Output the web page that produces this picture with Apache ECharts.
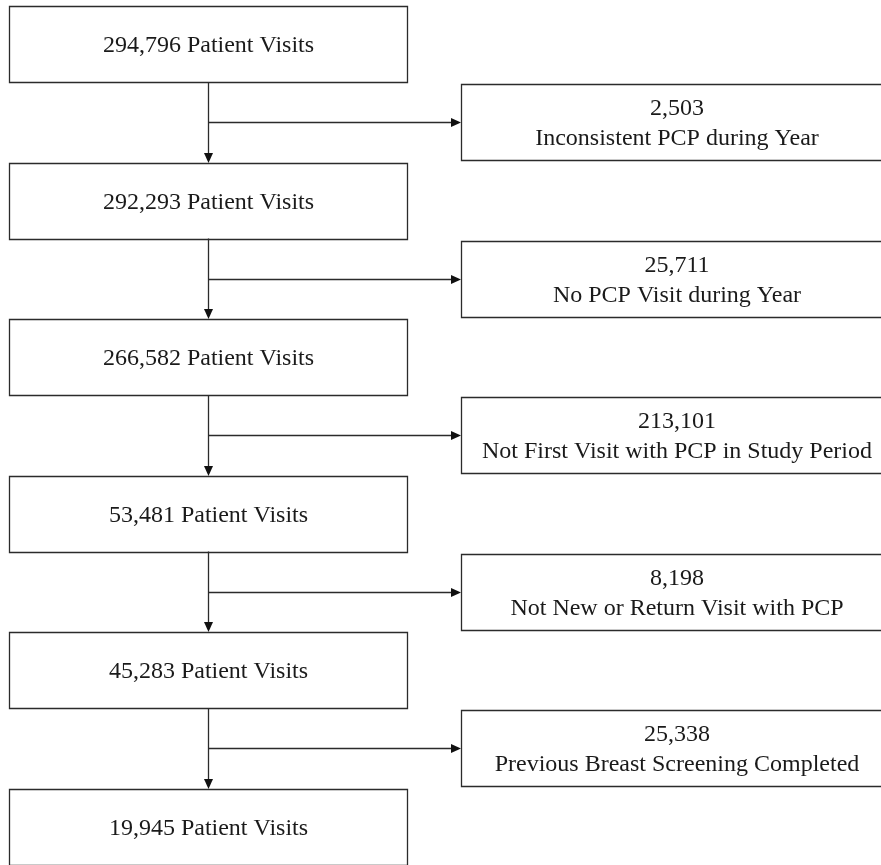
<!DOCTYPE html>
<html>
<head>
<meta charset="utf-8">
<script src="https://cdn.jsdelivr.net/npm/echarts@6/dist/echarts.min.js"></script>
<style>
html,body{margin:0;padding:0;background:#fff;overflow:hidden;}
#chart{width:881px;height:865px;}
</style>
</head>
<body>
<div id="chart"></div>
<script>
// ---- data ----
const mainCounts = [294796, 292293, 266582, 53481, 45283, 19945];
const mainLabel = 'Patient Visits';
const excludedCounts = [2503, 25711, 213101, 8198, 25338];
const excludedReasons = [
  'Inconsistent PCP during Year',
  'No PCP Visit during Year',
  'Not First Visit with PCP in Study Period',
  'Not New or Return Visit with PCP',
  'Previous Breast Screening Completed'
];

// ---- layout (axis units) ----
const STEP = 156.5;
const MAIN = { x0: 9, x1: 407, top: 6, h: 76 };
const EXCL = { x0: 461, x1: 892, top: 84, h: 76 };
const STEM_X = 208;
const FONT = '24px "Liberation Serif", "Times New Roman", serif';
const LINE = '#2b2b2b';
const TEXT = '#1a1a1a';

const fmt = v => v.toLocaleString('en-US');

function boxRect(api, b, i) {
  const top = b.top + i * STEP;
  const p0 = api.coord([b.x0, top]);
  const p1 = api.coord([b.x1, top + b.h]);
  return { x: Math.round(p0[0]) + 0.5, y: Math.round(p0[1]) + 0.5,
           width: Math.round(p1[0] - p0[0]), height: Math.round(p1[1] - p0[1]) };
}

const chart = echarts.init(document.getElementById('chart'), null, { renderer: 'canvas' });

chart.setOption({
  animation: false,
  backgroundColor: '#fff',
  grid: { left: 0, right: 0, top: 0, bottom: 0 },
  xAxis: { type: 'value', min: 0, max: 881, show: false },
  yAxis: { type: 'value', min: 0, max: 865, inverse: true, show: false },
  series: [
    {
      type: 'custom',
      coordinateSystem: 'cartesian2d',
      clip: false,
      data: mainCounts.map((v, i) => [i, v]),
      renderItem: function (params, api) {
        const i = api.value(0);
        const r = boxRect(api, MAIN, i);
        return {
          type: 'group',
          children: [
            { type: 'rect', shape: r, style: { fill: '#fff', stroke: LINE, lineWidth: 1.3 } },
            { type: 'text', x: r.x + r.width / 2, y: r.y + r.height / 2 + 1.5,
              style: { text: fmt(mainCounts[i]) + ' ' + mainLabel, font: FONT, fill: TEXT,
                       align: 'center', verticalAlign: 'middle' } }
          ]
        };
      }
    },
    {
      type: 'custom',
      coordinateSystem: 'cartesian2d',
      clip: false,
      data: excludedCounts.map((v, i) => [i, v]),
      renderItem: function (params, api) {
        const i = api.value(0);
        const r = boxRect(api, EXCL, i);
        const cx = r.x + r.width / 2;
        return {
          type: 'group',
          children: [
            { type: 'rect', shape: r, style: { fill: '#fff', stroke: LINE, lineWidth: 1.3 } },
            { type: 'text', x: cx, y: r.y + 24.5,
              style: { text: fmt(excludedCounts[i]), font: FONT, fill: TEXT,
                       align: 'center', verticalAlign: 'middle' } },
            { type: 'text', x: cx, y: r.y + 54,
              style: { text: excludedReasons[i], font: FONT, fill: TEXT,
                       align: 'center', verticalAlign: 'middle' } }
          ]
        };
      }
    },
    {
      type: 'custom',
      coordinateSystem: 'cartesian2d',
      data: excludedCounts.map((v, i) => [i, v]),
      renderItem: function (params, api) {
        const i = api.value(0);
        const yStart = MAIN.top + i * STEP + MAIN.h;
        const yEnd = MAIN.top + (i + 1) * STEP;
        const yBranch = EXCL.top + i * STEP + EXCL.h / 2;
        const a = api.coord([STEM_X, yStart]);
        const b = api.coord([STEM_X, yEnd]);
        const c = api.coord([STEM_X, yBranch]);
        const d = api.coord([EXCL.x0, yBranch]);
        const sx = Math.round(a[0]) + 0.5;
        const by = Math.round(c[1]) + 0.5;
        const dx = Math.round(d[0]);
        const ty = Math.round(b[1]);
        return {
          type: 'group',
          children: [
            { type: 'line', shape: { x1: sx, y1: a[1], x2: sx, y2: ty - 8 },
              style: { stroke: LINE, lineWidth: 1.3 } },
            { type: 'polygon', shape: { points: [[sx, ty], [sx - 4.5, ty - 10], [sx + 4.5, ty - 10]] },
              style: { fill: '#111' } },
            { type: 'line', shape: { x1: sx, y1: by, x2: dx - 8, y2: by },
              style: { stroke: LINE, lineWidth: 1.3 } },
            { type: 'polygon', shape: { points: [[dx, by], [dx - 10, by - 4.5], [dx - 10, by + 4.5]] },
              style: { fill: '#111' } }
          ]
        };
      }
    }
  ]
});
</script>
</body>
</html>
